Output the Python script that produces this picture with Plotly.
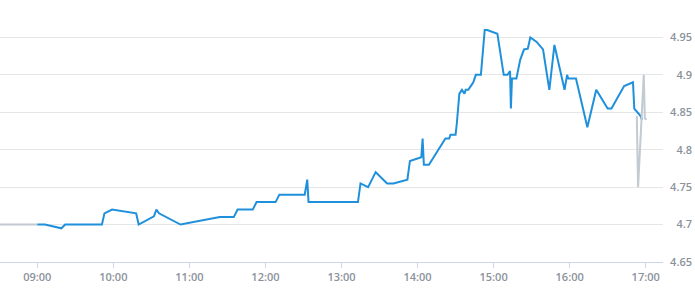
import plotly.graph_objects as go

DAY = "2024-03-15 "

pre_times = ["08:25:00", "09:00:00"]
pre_values = [4.70, 4.70]

main_times = [
    "09:00:00", "09:06:00", "09:19:00", "09:22:00", "09:51:00", "09:53:00", "09:59:00",
    "10:18:00", "10:20:00", "10:32:00", "10:34:00", "10:36:00", "10:53:00", "11:24:00",
    "11:35:00", "11:38:00", "11:50:00", "11:53:00", "12:08:00", "12:11:00", "12:31:00",
    "12:33:00", "12:34:00", "13:13:00", "13:15:00", "13:21:00", "13:24:00", "13:27:00",
    "13:36:00", "13:41:00", "13:52:00", "13:54:00", "14:03:00", "14:04:00", "14:05:00",
    "14:09:00", "14:22:00", "14:25:00", "14:26:00", "14:30:00", "14:31:00", "14:33:00",
    "14:35:00", "14:37:00", "14:38:00", "14:40:00", "14:42:00", "14:44:00", "14:46:00",
    "14:50:00", "14:53:00", "14:55:00", "15:03:00", "15:08:00", "15:11:00", "15:13:00",
    "15:13:40", "15:14:30", "15:18:00", "15:21:00", "15:24:00", "15:27:00", "15:29:00",
    "15:34:00", "15:39:00", "15:44:00", "15:48:00", "15:56:00", "15:58:00", "15:59:00",
    "16:05:00", "16:14:00", "16:21:00", "16:30:00", "16:33:00", "16:43:00", "16:50:00",
    "16:51:00", "16:56:00", "16:57:00",
]
main_values = [
    4.700, 4.700, 4.695, 4.700, 4.700, 4.715, 4.720,
    4.715, 4.700, 4.711, 4.720, 4.715, 4.700, 4.710,
    4.710, 4.720, 4.720, 4.730, 4.730, 4.740, 4.740,
    4.760, 4.730, 4.730, 4.755, 4.750, 4.760, 4.770,
    4.755, 4.755, 4.760, 4.785, 4.790, 4.815, 4.780,
    4.780, 4.815, 4.815, 4.820, 4.820, 4.835, 4.875,
    4.880, 4.875, 4.880, 4.880, 4.885, 4.890, 4.900,
    4.900, 4.960, 4.960, 4.955, 4.900, 4.900, 4.905,
    4.855, 4.895, 4.895, 4.920, 4.934, 4.935, 4.950,
    4.944, 4.934, 4.880, 4.940, 4.880, 4.900, 4.895,
    4.895, 4.830, 4.880, 4.855, 4.855, 4.885, 4.890,
    4.855, 4.845, 4.840,
]

post_times = ["16:53:00", "16:54:00", "16:58:30", "16:59:20", "17:00:40"]
post_values = [4.845, 4.750, 4.900, 4.842, 4.840]

y_ticks = [4.65, 4.7, 4.75, 4.8, 4.85, 4.9, 4.95]
y_labels = ["4.65", "4.7", "4.75", "4.8", "4.85", "4.9", "4.95"]

BLUE = "#1f90db"
GREY = "#c2cad2"
LABEL = "#8a929b"

fig = go.Figure()
fig.add_trace(go.Scatter(x=[DAY + t for t in pre_times], y=pre_values, mode="lines",
                         line=dict(color=GREY, width=2), hoverinfo="skip"))
fig.add_trace(go.Scatter(x=[DAY + t for t in main_times], y=main_values, mode="lines",
                         line=dict(color=BLUE, width=2)))
fig.add_trace(go.Scatter(x=[DAY + t for t in post_times], y=post_values, mode="lines",
                         line=dict(color=GREY, width=2), hoverinfo="skip"))

fig.update_layout(
    width=695, height=300,
    margin=dict(l=0, r=0, t=0, b=38),
    paper_bgcolor="white", plot_bgcolor="white",
    showlegend=False,
    font=dict(family="Open Sans", size=11, color=LABEL),
    xaxis=dict(
        type="date",
        domain=[0, 663 / 695],
        range=[DAY + "08:30:35", DAY + "17:13:40"],
        tick0=DAY + "09:00:00", dtick=3600000,
        tickformat="%H:%M",
        showgrid=False, zeroline=False,
        showline=True, linecolor="#ccd6eb", linewidth=1,
        ticks="outside", ticklen=5, tickcolor="#ccd6eb",
        tickfont=dict(family="Open Sans", size=11, color=LABEL, weight=600),
    ),
    yaxis=dict(
        range=[4.65, 5.0],
        side="right", anchor="free", position=1.0,
        ticklabelposition="inside",
        ticklabeloverflow="allow",
        tickvals=y_ticks, ticktext=y_labels,
        showgrid=True, gridcolor="#e6e6e6", gridwidth=1,
        zeroline=False, showline=False, ticks="",
        tickfont=dict(family="Open Sans", size=11, color=LABEL, weight=600),
    ),
)

fig.write_html("out.html")
